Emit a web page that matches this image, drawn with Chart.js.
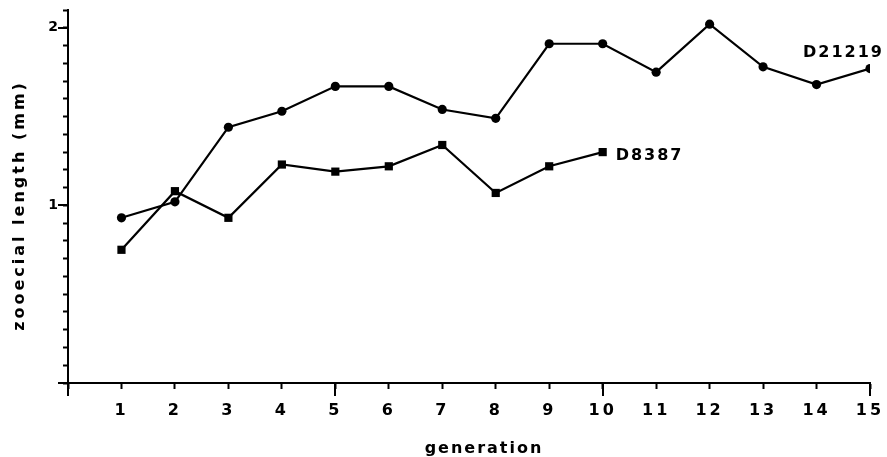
<!DOCTYPE html>
<html><head><meta charset="utf-8">
<script src="https://cdn.jsdelivr.net/npm/chart.js@4/dist/chart.umd.min.js"></script>
<style>html,body{margin:0;padding:0;background:#fff;overflow:hidden}</style>
</head><body>
<canvas id="c" width="887" height="457"></canvas>
<script>
// ---- data ----
const generations = [1,2,3,4,5,6,7,8,9,10,11,12,13,14,15];
const d21219 = [0.93,1.02,1.44,1.53,1.67,1.67,1.54,1.49,1.91,1.91,1.75,2.02,1.78,1.68,1.77];
const d8387  = [0.75,1.08,0.93,1.23,1.19,1.22,1.34,1.07,1.22,1.30];
const seriesNames = ['D21219','D8387'];
const xTickLabels = ['1','2','3','4','5','6','7','8','9','10','11','12','13','14','15'];
const yTickValues = [1,2];
const yTickLabels = ['1','2'];
const xTitle = 'generation';
const yTitle = 'zooecial length (mm)';

const FONT = '"DejaVu Sans", sans-serif';

const toXY = (vals) => vals.map((v,i)=>({x:generations[i], y:v}));

const decor = {
  id:'decor',
  beforeDraw(chart){ chart.ctx.letterSpacing = '3px'; },
  afterDraw(chart){
    const {ctx, scales:{x,y}, chartArea:a} = chart;
    ctx.save();
    ctx.strokeStyle = '#000'; ctx.lineWidth = 2;
    // longer major ticks
    [0,5,10,15].forEach(v=>{const px=Math.round(x.getPixelForValue(v));ctx.beginPath();ctx.moveTo(px,a.bottom);ctx.lineTo(px,a.bottom+13);ctx.stroke();});
    [0,1,2].forEach(v=>{const py=Math.round(y.getPixelForValue(v));ctx.beginPath();ctx.moveTo(a.left,py);ctx.lineTo(a.left-10,py);ctx.stroke();});
    ctx.fillStyle = '#000';
    // axis titles
    ctx.font = 'bold 16px ' + FONT;
    ctx.letterSpacing = '2px';
    ctx.textAlign = 'center'; ctx.textBaseline = 'alphabetic';
    ctx.fillText(xTitle, a.left + (a.right-a.left)*0.5 + 15, 453);
    ctx.save();
    ctx.translate(24, a.top + (a.bottom-a.top)*0.5 + 9);
    ctx.rotate(-Math.PI/2);
    ctx.letterSpacing = '3px';
    ctx.fillText(yTitle, 0, 0);
    ctx.restore();
    // series labels
    ctx.letterSpacing = '2px';
    ctx.textAlign = 'left';
    const n1 = d21219.length-1, n2 = d8387.length-1;
    ctx.fillText(seriesNames[0], x.getPixelForValue(generations[n1]) - 67, y.getPixelForValue(d21219[n1]) - 12);
    ctx.fillText(seriesNames[1], x.getPixelForValue(generations[n2]) + 13, y.getPixelForValue(d8387[n2]) + 8);
    ctx.restore();
  }
};

new Chart(document.getElementById('c'), {
  type:'line',
  data:{
    datasets:[
      {label:seriesNames[0], data:toXY(d21219), borderColor:'#000', borderWidth:2.2, pointStyle:'circle', pointRadius:4.6, pointBackgroundColor:'#000', pointBorderWidth:0, tension:0},
      {label:seriesNames[1], data:toXY(d8387), borderColor:'#000', borderWidth:2.2, pointStyle:'rect', pointRadius:5.8, pointBackgroundColor:'#000', pointBorderWidth:0, tension:0}
    ]
  },
  options:{
    responsive:false, animation:false, devicePixelRatio:1,
    layout:{padding:{top:10,right:17,left:0,bottom:0}},
    plugins:{legend:{display:false}, tooltip:{enabled:false}},
    scales:{
      x:{type:'linear', min:0, max:15,
        afterFit:(s)=>{s.height=74; s.paddingLeft=0; s.paddingRight=0;},
        grid:{drawOnChartArea:false, drawTicks:true, tickLength:6, tickColor:'#000', tickWidth:2},
        border:{display:true, color:'#000', width:2},
        ticks:{stepSize:1, autoSkip:false, maxRotation:0, padding:12, color:'#000', font:{family:FONT, size:16, weight:'bold'},
          callback:(v)=>{const i=generations.indexOf(v); return i>=0? xTickLabels[i] : '';}}
      },
      y:{type:'linear', min:0, max:2.1,
        afterFit:(s)=>{s.width=68; s.paddingTop=0; s.paddingBottom=0;},
        grid:{drawOnChartArea:false, drawTicks:true, tickLength:5, tickColor:'#000', tickWidth:2},
        border:{display:true, color:'#000', width:2},
        ticks:{stepSize:0.1, maxTicksLimit:100, autoSkip:false, padding:2, color:'#000', font:{family:FONT, size:14, weight:'bold'},
          callback:(v)=>{const r=Math.round(v*10)/10; const i=yTickValues.indexOf(r); return i>=0? yTickLabels[i] : '';}}
      }
    }
  },
  plugins:[decor]
});
</script>
</body></html>
